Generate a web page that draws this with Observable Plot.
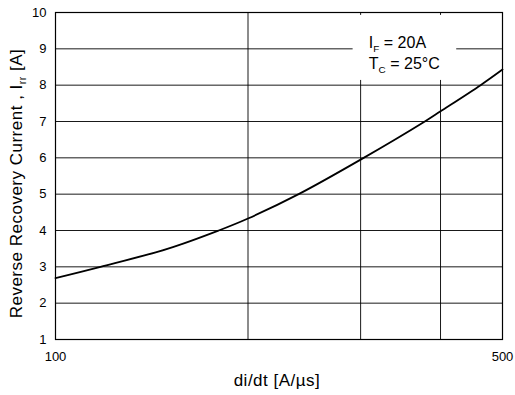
<!DOCTYPE html>
<html><head><meta charset="utf-8">
<script src="https://cdn.jsdelivr.net/npm/d3@7"></script>
<script src="https://cdn.jsdelivr.net/npm/@observablehq/plot@0.6"></script>
<style>body{margin:0;background:#fff} svg{display:block}</style>
</head><body><div id="chart"></div>
<script>
// data
const didt = [100, 117.6, 150, 180, 200, 240, 300, 378, 400, 462, 500];
const irr  = [2.69, 3.0, 3.5, 4.0, 4.33, 5.0, 5.95, 7.0, 7.28, 8.0, 8.43];
const xGrid = [100, 200, 300, 400, 500];
const xTickLabels = [100, 500];
const yTicks = [1, 2, 3, 4, 5, 6, 7, 8, 9, 10];
const annotLines = ["I_{F} = 20A", "T_{C} = 25°C"];
const annotX = [309, 309];
const annotY = [9.17, 8.58];
const boxX = [292, 424];
const boxY = [8.13, 9.92];
const xTitle = "di/dt [A/µs]";
const yTitle = "Reverse Recovery Current , I_{rr} [A]";

const curve = didt.map((x, i) => ({x, y: irr[i]}));
const annots = annotLines.map((t, i) => ({t, x: annotX[i], y: annotY[i]}));

const W = 515, H = 395, mL = 55, mR = 13, mT = 12, mB = 56;

const chart = Plot.plot({
  width: W, height: H,
  marginLeft: mL, marginRight: mR, marginTop: mT, marginBottom: mB,
  style: {fontFamily: "'Liberation Sans', Arial, sans-serif", fontSize: "13px", color: "#000", background: "#fff"},
  x: {type: "log", domain: [100, 500]},
  y: {domain: [1, 10]},
  marks: [
    Plot.ruleY(yTicks, {stroke: "#000", strokeWidth: 1, strokeOpacity: 0.9}),
    Plot.ruleX(xGrid, {stroke: "#000", strokeWidth: 1, strokeOpacity: 0.9}),
    Plot.rect([{}], {x1: boxX[0], x2: boxX[1], y1: boxY[0], y2: boxY[1], fill: "#fff"}),
    Plot.frame({stroke: "#000", strokeWidth: 1.2}),
    Plot.line(curve, {x: "x", y: "y", curve: "catmull-rom", stroke: "#000", strokeWidth: 1.8}),
    Plot.text(annots, {x: "x", y: "y", text: "t", textAnchor: "start", fontSize: 16, fill: "#000"}),
    Plot.axisY({ticks: yTicks, tickSize: 0, tickPadding: 9, label: null, fontSize: 13}),
    Plot.axisX({ticks: xTickLabels, tickSize: 0, tickPadding: 12, tickFormat: d => String(d), label: null, fontSize: 13})
  ]
});

function rich(textSel, str, shift) {
  textSel.text(null);
  const parts = str.split(/(_\{[^}]*\})/).filter(p => p);
  let prevSub = false;
  parts.forEach(p => {
    if (p.startsWith("_{")) {
      textSel.append("tspan").attr("font-size", "0.62em").attr("dy", shift).text(p.slice(2, -1));
      prevSub = true;
    } else {
      const ts = textSel.append("tspan").text(p);
      if (prevSub) ts.attr("dy", -shift);
      prevSub = false;
    }
  });
}

const svg = d3.select(chart);
svg.selectAll("text").each(function() {
  const s = this.textContent;
  if (s.includes("_{")) rich(d3.select(this), s, 4);
});

svg.append("text")
  .attr("x", 277).attr("y", 386)
  .attr("text-anchor", "middle")
  .attr("font-size", 17)
  .attr("letter-spacing", "0.5px")
  .attr("fill", "#000")
  .text(xTitle);

const yt = svg.append("text")
  .attr("transform", "translate(22,183.5) rotate(-90)")
  .attr("text-anchor", "middle")
  .attr("font-size", 17)
  .attr("letter-spacing", "0.5px")
  .attr("fill", "#000");
rich(yt, yTitle, 4);

document.getElementById("chart").append(chart);
</script>
</body></html>
